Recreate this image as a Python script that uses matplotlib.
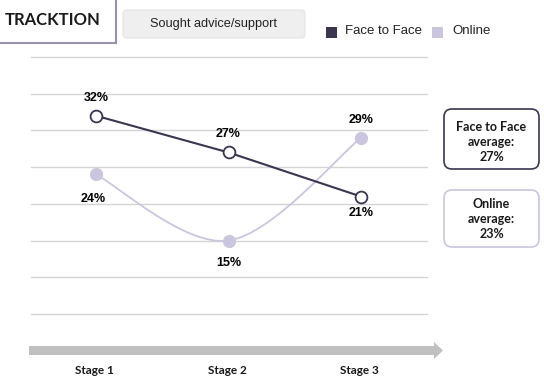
import matplotlib.pyplot as plt
import numpy as np
from matplotlib.patches import FancyBboxPatch, FancyArrow, PathPatch, Rectangle
from matplotlib.path import Path

stages = ["Stage 1", "Stage 2", "Stage 3"]
face_to_face = [32, 27, 21]
online = [24, 15, 29]
grid_values = [5, 10, 15, 20, 25, 30, 35, 40]
face_avg = 27
online_avg = 23

DARK = "#3b3550"
LIGHT = "#cbc5dd"
W, H = 544, 378

fig = plt.figure(figsize=(W / 100, H / 100), dpi=100)

# axes placed in pixel terms: grid from x=31..427, y=314(5%)..57(40%)
x0_px, x1_px = 31, 427
px_per_stage = 132.5
stage1_px = 96
xmin = -(stage1_px - x0_px) / px_per_stage
xmax = xmin + (x1_px - x0_px) / px_per_stage
y_top_px, y_bot_px = 57, 314
ax = fig.add_axes([x0_px / W, 1 - y_bot_px / H, (x1_px - x0_px) / W, (y_bot_px - y_top_px) / H])
ax.set_xlim(xmin, xmax)
ax.set_ylim(grid_values[0], grid_values[-1])
for s in ax.spines.values():
    s.set_visible(False)
ax.set_xticks([])
ax.set_yticks([])
for g in grid_values:
    ax.axhline(g, color="#d4d4d4", lw=1, clip_on=False, zorder=0)

x = np.arange(len(stages))

# online: smooth curve through the points (cubic bezier, catmull-rom tangents)
pts = np.column_stack([x, online]).astype(float)
verts = [tuple(pts[0])]
codes = [Path.MOVETO]
for i in range(len(pts) - 1):
    p_prev = pts[i - 1] if i > 0 else pts[i]
    p_next = pts[i + 2] if i + 2 < len(pts) else pts[i + 1]
    c1 = pts[i] + (pts[i + 1] - p_prev) / 6
    c2 = pts[i + 1] - (p_next - pts[i]) / 6
    verts += [tuple(c1), tuple(c2), tuple(pts[i + 1])]
    codes += [Path.CURVE4] * 3
ax.add_patch(PathPatch(Path(verts, codes), fc="none", ec=LIGHT, lw=1.3, zorder=2))
ax.plot(x, online, ls="none", marker="o", ms=8.5, mfc=LIGHT, mec=LIGHT, zorder=3)

ax.plot(x, face_to_face, color=DARK, lw=1.5, marker="o", ms=8.5, mfc="white",
        mec=DARK, mew=1.3, zorder=4)

lab = dict(fontsize=9, fontweight="bold", family="Liberation Sans", ha="center", va="center")
ff_off = [2.4, 2.5, -2.3]
on_off = [-3.4, -3.0, 2.4]
for xi, v, o in zip(x, face_to_face, ff_off):
    ax.text(xi, v + o, f"{v}%", **lab)
for xi, v, o in zip(x, online, on_off):
    ax.text(xi - (0.02 if xi == 0 else 0), v + o, f"{v}%", **lab)

# overlay for decorations in pixel coords
ov = fig.add_axes([0, 0, 1, 1], zorder=5)
ov.set_xlim(0, W)
ov.set_ylim(H, 0)
ov.axis("off")

# arrow and stage labels
ov.add_patch(FancyArrow(29, 350.5, 405, 0, width=9, head_width=17, head_length=9,
                        length_includes_head=False, color="#c0c0c0", lw=0))
stage_px = [stage1_px + i * px_per_stage for i in range(len(stages))]
for sx, s in zip(stage_px, stages):
    ov.text(sx - 1.5, 371, s, fontsize=8.5, fontweight="bold", family="Lato",
            ha="center", va="center", color="#1a1a1a")

# header
ov.add_patch(Rectangle((-2, -2), 118, 45, fc="white", ec="#9a90b0", lw=1.5))
ov.text(53, 20, "TRACKTION", fontsize=12, fontweight="bold", family="Lato",
        ha="center", va="center", color="#1a1a1a")
ov.add_patch(FancyBboxPatch((123, 10), 182, 28, boxstyle="round,pad=0,rounding_size=4",
                            fc="#efefef", ec="#e4e4e4", lw=0.8))
ov.text(214, 23.5, "Sought advice/support", fontsize=9.2, family="Liberation Sans",
        ha="center", va="center", color="#222222")

# legend
ov.add_patch(Rectangle((326, 27), 11, 11, fc=DARK, ec="none"))
ov.text(345, 31.5, "Face to Face", fontsize=9.5, family="Liberation Sans",
        va="center", color="#222222")
ov.add_patch(Rectangle((432, 27), 11, 11, fc=LIGHT, ec="none"))
ov.text(452, 31.5, "Online", fontsize=9.5, family="Liberation Sans",
        va="center", color="#222222")

# average boxes
ov.add_patch(FancyBboxPatch((444, 109), 95, 60, boxstyle="round,pad=0,rounding_size=8",
                            fc="white", ec=DARK, lw=1.2))
ov.text(491.5, 142, f"Face to Face\naverage:\n{face_avg}%", fontsize=9, fontweight="bold",
        family="Lato", ha="center", va="center", linespacing=1.3, color="#1a1a1a")
ov.add_patch(FancyBboxPatch((444, 190), 95, 57, boxstyle="round,pad=0,rounding_size=8",
                            fc="white", ec=LIGHT, lw=1.2))
ov.text(491.5, 219, f"Online\naverage:\n{online_avg}%", fontsize=9, fontweight="bold",
        family="Lato", ha="center", va="center", linespacing=1.3, color="#1a1a1a")

fig.savefig("out.png", dpi=100)
